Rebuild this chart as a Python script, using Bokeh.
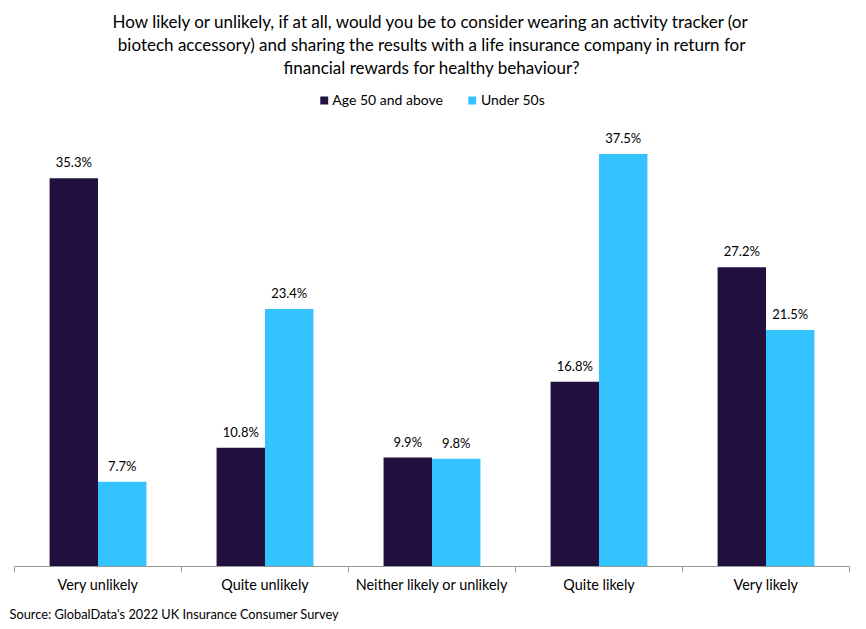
import numpy as np
from bokeh.plotting import figure
from bokeh.models import (ColumnDataSource, Range1d, FixedTicker, Legend, LegendItem, Title)
from bokeh.embed import file_html
from bokeh.resources import INLINE

categories = ["Very unlikely", "Quite unlikely", "Neither likely or unlikely", "Quite likely", "Very likely"]
series_names = ["Age 50 and above", "Under 50s"]
age50_plus = [35.3, 10.8, 9.9, 16.8, 27.2]
under50 = [7.7, 23.4, 9.8, 37.5, 21.5]
colors = ["#22113F", "#35C3FF"]
title_lines = [
    "How likely or unlikely, if at all, would you be to consider wearing an activity tracker (or",
    "biotech accessory) and sharing the results with a life insurance company in return for",
    "financial rewards for healthy behaviour?",
]
source_text = "Source: GlobalData's 2022 UK Insurance Consumer Survey"

FONT = "Lato"
idx = np.arange(len(categories))
bar_w = 0.29

p = figure(width=866, height=629, output_backend="svg", toolbar_location=None,
           x_range=Range1d(-0.5, len(categories) - 0.5), y_range=Range1d(0, 44.45),
           y_axis_location=None, min_border_left=14, min_border_right=17,
           min_border_top=77, min_border_bottom=62)
p.outline_line_color = None
p.xgrid.grid_line_color = None
p.ygrid.grid_line_color = None
p.background_fill_color = "white"

renderers = []
for k, (vals, col) in enumerate(zip([age50_plus, under50], colors)):
    xs = idx + (k - 0.5) * bar_w
    src = ColumnDataSource(dict(x=xs, top=vals, lab=[f"{v:.1f}%" for v in vals]))
    r = p.vbar(x="x", top="top", width=bar_w, bottom=0, source=src, fill_color=col, line_color=None)
    renderers.append(r)
    p.text(x="x", y="top", text="lab", source=src, text_align="center", text_baseline="bottom",
           y_offset=-8, text_font_size="13px", text_color="#000000", text_font={"value": FONT})

ax = p.xaxis[0]
ax.ticker = FixedTicker(ticks=list(idx), minor_ticks=list(np.arange(len(categories) + 1) - 0.5))
ax.major_label_overrides = {int(i): c for i, c in zip(idx, categories)}
ax.major_tick_line_color = None
ax.major_tick_out = 0
ax.major_tick_in = 0
ax.minor_tick_out = 6
ax.minor_tick_in = 0
ax.minor_tick_line_color = "#999999"
ax.axis_line_color = "#999999"
ax.major_label_text_font = FONT
ax.major_label_text_font_size = "14.4px"
ax.major_label_text_color = "#000000"
ax.major_label_standoff = 3

src_title = Title(text=source_text, align="left", text_font=FONT, text_font_size="12.8px",
                  text_font_style="normal", text_color="#000000", offset=-5, standoff=16)
p.add_layout(src_title, "below")

legend = Legend(items=[LegendItem(label=n, renderers=[r]) for n, r in zip(series_names, renderers)],
                orientation="horizontal", location="top_center", glyph_width=10, glyph_height=10,
                label_text_font=FONT, label_text_font_size="14px", label_text_color="#000000",
                spacing=24, border_line_color=None, padding=0, margin=14, label_standoff=4,
                background_fill_alpha=0)
p.add_layout(legend, "center")

for line in reversed(title_lines):
    t = Title(text=line, align="center", text_font=FONT, text_font_size="17px",
              text_font_style="normal", text_color="#000000", standoff=0)
    p.add_layout(t, "above")

open("out.html", "w").write(file_html(p, INLINE))
